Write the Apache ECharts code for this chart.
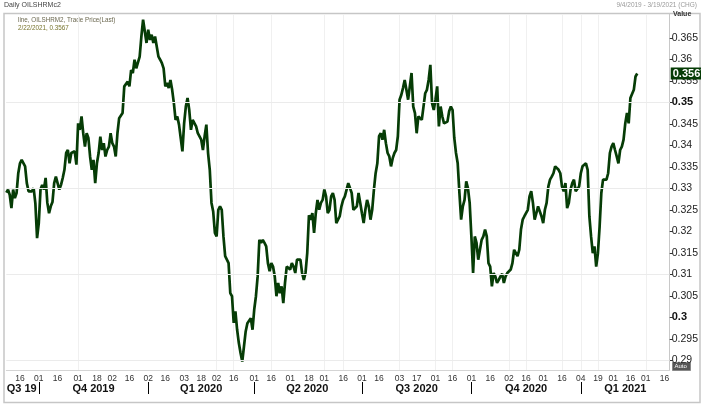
<!DOCTYPE html>
<html><head><meta charset="utf-8">
<script src="https://cdn.jsdelivr.net/npm/echarts@6/dist/echarts.min.js"></script>
<style>html,body{margin:0;padding:0;background:#fff;}#c{width:701px;height:405px;}</style>
</head><body><div id="c"></div>
<script>
// ---- data ----
const startDate = '2019-09-04';
const endDate = '2021-03-19';
const holidays = ['2019-11-28','2019-12-25','2020-01-01','2020-01-20','2020-02-17','2020-04-10','2020-05-25','2020-07-03','2020-09-07','2020-11-26','2020-12-25','2021-01-01','2021-01-18','2021-02-15'];

const values = [
0.3290,0.3297,0.3285,0.3254,0.3297,0.3277,0.3289,0.3335,0.3358,0.3366,
0.3362,0.3351,0.3312,0.3293,0.3289,0.3293,0.3300,0.3265,0.3184,0.3219,
0.3297,0.3308,0.3297,0.3324,0.3266,0.3242,0.3258,0.3268,0.3312,0.3327,
0.3312,0.3297,0.3308,0.3324,0.3343,0.3382,0.3389,0.3358,0.3382,0.3382,
0.3386,0.3355,0.3451,0.3436,0.3467,0.3428,0.3397,0.3428,0.3417,0.3374,
0.3343,0.3366,0.3312,0.3358,0.3382,0.3420,0.3389,0.3405,0.3374,0.3389,
0.3397,0.3428,0.3405,0.3397,0.3374,0.3428,0.3463,0.3467,0.3475,0.3537,
0.3541,0.3548,0.3537,0.3575,0.3568,0.3599,0.3579,0.3575,0.3606,0.3653,
0.3692,0.3696,0.3638,0.3669,0.3645,0.3657,0.3638,0.3653,0.3653,0.3606,
0.3599,0.3591,0.3579,0.3537,0.3545,0.3533,0.3552,0.3529,0.3498,0.3459,
0.3467,0.3448,0.3444,0.3386,0.3451,0.3490,0.3510,0.3482,0.3436,0.3459,
0.3455,0.3444,0.3428,0.3432,0.3413,0.3389,0.3421,0.3448,0.3382,0.3343,
0.3266,0.3246,0.3196,0.3188,0.3250,0.3258,0.3250,0.3188,0.3142,0.3138,
0.3126,0.3056,0.3049,0.2987,0.3014,0.2971,0.2940,0.2917,0.2897,0.2932,
0.2967,0.2986,0.2983,0.2998,0.2971,0.3018,0.3049,0.3095,0.3180,0.3173,
0.3180,0.3173,0.3165,0.3126,0.3107,0.3126,0.3118,0.3095,0.3049,0.3080,
0.3056,0.3072,0.3033,0.3080,0.3118,0.3118,0.3111,0.3126,0.3118,0.3103,
0.3134,0.3134,0.3134,0.3103,0.3087,0.3103,0.3149,0.3237,0.3227,0.3242,
0.3196,0.3242,0.3273,0.3250,0.3266,0.3273,0.3297,0.3281,0.3242,0.3250,
0.3281,0.3289,0.3273,0.3219,0.3215,0.3235,0.3258,0.3273,0.3281,0.3281,
0.3312,0.3308,0.3289,0.3250,0.3246,0.3258,0.3289,0.3266,0.3242,0.3219,
0.3250,0.3273,0.3258,0.3227,0.3250,0.3297,0.3335,0.3358,0.3421,0.3428,
0.3413,0.3436,0.3405,0.3382,0.3374,0.3351,0.3370,0.3382,0.3389,0.3421,
0.3506,0.3517,0.3533,0.3552,0.3529,0.3506,0.3537,0.3568,0.3490,0.3475,
0.3428,0.3467,0.3467,0.3459,0.3490,0.3521,0.3529,0.3552,0.3587,0.3498,
0.3482,0.3506,0.3537,0.3444,0.3490,0.3467,0.3451,0.3448,0.3455,0.3479,
0.3490,0.3482,0.3417,0.3382,0.3358,0.3289,0.3227,0.3258,0.3273,0.3316,
0.3300,0.3266,0.3188,0.3103,0.3188,0.3173,0.3134,0.3157,0.3180,0.3188,
0.3204,0.3188,0.3126,0.3118,0.3072,0.3103,0.3095,0.3080,0.3087,0.3095,
0.3101,0.3080,0.3095,0.3103,0.3107,0.3111,0.3126,0.3157,0.3161,0.3142,
0.3157,0.3204,0.3227,0.3235,0.3235,0.3250,0.3281,0.3293,0.3266,0.3227,
0.3242,0.3258,0.3262,0.3235,0.3219,0.3250,0.3266,0.3304,0.3320,0.3327,
0.3335,0.3351,0.3355,0.3343,0.3335,0.3304,0.3293,0.3312,0.3254,0.3266,
0.3297,0.3312,0.3320,0.3293,0.3289,0.3304,0.3335,0.3351,0.3351,0.3358,
0.3343,0.3235,0.3188,0.3149,0.3165,0.3118,0.3149,0.3211,0.3289,0.3320,
0.3316,0.3320,0.3335,0.3382,0.3397,0.3405,0.3389,0.3374,0.3358,0.3389,
0.3397,0.3413,0.3451,0.3475,0.3451,0.3510,0.3506,0.3529,0.3560,0.3567
];

const tickDates = ['2019-09-16','2019-10-01','2019-10-16','2019-11-01','2019-11-18','2019-12-02','2019-12-16','2020-01-02','2020-01-16','2020-02-03','2020-02-18','2020-03-02','2020-03-16','2020-04-01','2020-04-16','2020-05-01','2020-05-18','2020-06-01','2020-06-16','2020-07-01','2020-07-16','2020-08-03','2020-08-17','2020-09-01','2020-09-16','2020-10-01','2020-10-16','2020-11-02','2020-11-16','2020-12-01','2020-12-16','2021-01-04','2021-01-19','2021-02-01','2021-02-16','2021-03-01','2021-03-16'];
const gridDates = ['2019-11-01','2020-03-02','2020-03-16','2020-04-16','2020-06-01','2020-06-16','2020-08-03','2020-09-01','2020-09-16','2020-11-02','2020-11-16','2020-12-16','2021-01-04','2021-01-19','2021-03-01'];
const quarterStarts = ['2019-09-04','2019-10-01','2020-01-02','2020-04-01','2020-07-01','2020-10-01','2021-01-04'];
const quarterNames = ['Q3 19','Q4 2019','Q1 2020','Q2 2020','Q3 2020','Q4 2020','Q1 2021'];
const yTicks = [0.29,0.295,0.3,0.305,0.31,0.315,0.32,0.325,0.33,0.335,0.34,0.345,0.35,0.355,0.36,0.365];
const yBold = [0.3,0.35];
const hGrid = [0.29,0.31,0.33,0.35,0.355];
const yMin = 0.28774, yMax = 0.37053;

// ---- build trading-day categories ----
const dates = [];
(function(){
  const hs = new Set(holidays);
  const d = new Date(startDate + 'T00:00:00Z');
  const e = new Date(endDate + 'T00:00:00Z');
  while (d <= e) {
    const wd = d.getUTCDay();
    const s = d.toISOString().slice(0,10);
    if (wd !== 0 && wd !== 6 && !hs.has(s)) dates.push(s);
    d.setUTCDate(d.getUTCDate() + 1);
  }
})();
const tickSet = new Set(tickDates);
const gridSet = new Set(gridDates);
const qStartIdx = quarterStarts.map(s => dates.indexOf(s));
const qDivSet = new Set(quarterStarts.slice(1));
const qMid = {};
qStartIdx.forEach((s, k) => {
  const e = k + 1 < qStartIdx.length ? qStartIdx[k+1] : dates.length - 1;
  qMid[dates[Math.floor((s + e) / 2)]] = quarterNames[k];
});
const lastVal = values[values.length - 1];
const FONT = '"Liberation Sans", Arial, sans-serif';

const chart = echarts.init(document.getElementById('c'), null, {renderer: 'canvas'});
const staticGraphics = [
  {type: 'rect', silent: true, shape: {x: 4, y: 13.5, width: 696, height: 389}, style: {fill: 'none', stroke: '#c6c6c6', lineWidth: 1.5}, z: -1},
  {type: 'text', left: 4, top: 2, style: {text: 'Daily OILSHRMc2', fontSize: 7, fill: '#444', fontFamily: FONT}},
  {type: 'text', right: 4, top: 2, style: {text: '9/4/2019 - 3/19/2021 (CHG)', fontSize: 6.5, fill: '#9a9a9a', fontFamily: FONT}},
  {type: 'text', left: 673, top: 11, style: {text: 'Value', fontSize: 7, fontWeight: 'bold', fill: '#333', fontFamily: FONT}},
  {type: 'text', left: 18, top: 17, style: {text: 'line, OILSHRM2, Trade Price(Last)', fontSize: 6.3, fill: '#6b6850', fontFamily: FONT}},
  {type: 'text', left: 18, top: 25, style: {text: '2/22/2021, ' + lastVal.toFixed(4), fontSize: 6.3, fill: '#77742c', fontFamily: FONT}},
  {type: 'group', left: 672, top: 362, children: [
    {type: 'rect', shape: {x: 0, y: 0, width: 18, height: 8}, style: {fill: '#555', stroke: '#888'}},
    {type: 'text', x: 2, y: 1, style: {text: 'Auto', fontSize: 6, fill: '#fff', fontFamily: FONT}}
  ]}
];
chart.setOption({
  animation: false,
  backgroundColor: '#ffffff',
  grid: {left: 6.3, right: 30.7, top: 14, bottom: 35, containLabel: false},
  xAxis: [{
    type: 'category', data: dates, boundaryGap: false,
    axisLine: {show: true, lineStyle: {color: '#d4d4d4'}},
    axisTick: {show: false},
    axisLabel: {interval: (i, v) => tickSet.has(v), formatter: v => v.slice(8), fontSize: 8.5, color: '#333', margin: 4, fontFamily: FONT},
    splitLine: {show: true, interval: (i, v) => gridSet.has(v), lineStyle: {color: '#f0f0f0', width: 1}}
  }, {
    type: 'category', data: dates, boundaryGap: false, position: 'bottom', offset: 12,
    axisLine: {show: false},
    axisTick: {show: true, interval: (i, v) => qDivSet.has(v), length: 12, lineStyle: {color: '#000', width: 1}},
    axisLabel: {interval: (i, v) => v in qMid, formatter: v => qMid[v] || '', fontSize: 11, fontWeight: 'bold', color: '#111', margin: 1, fontFamily: FONT},
    splitLine: {show: false}
  }],
  yAxis: {
    type: 'value', position: 'right', min: yMin, max: yMax, scale: true,
    axisLine: {show: true, lineStyle: {color: '#c8c8c8'}},
    axisTick: {show: true, customValues: yTicks, length: 3, lineStyle: {color: '#333'}},
    axisLabel: {
      customValues: yTicks, margin: 2, fontSize: 10.5, color: '#222', fontFamily: FONT,
      formatter: v => { const s = String(+v.toFixed(3)); return yBold.some(b => Math.abs(b - v) < 1e-9) ? '{b|' + s + '}' : s; },
      rich: {b: {fontWeight: 'bold', fontSize: 11, color: '#111', fontFamily: FONT}}
    },
    splitLine: {show: false}
  },
  series: [{
    type: 'line', data: [], z: 1, silent: true,
    markLine: {silent: true, symbol: 'none', label: {show: false},
      lineStyle: {color: '#ebebeb', type: 'solid', width: 1},
      data: hGrid.map(v => ({yAxis: v}))}
  }, {
    type: 'line', data: values, z: 3, showSymbol: false, symbol: 'none',
    lineStyle: {color: '#063c06', width: 2.7}, itemStyle: {color: '#063c06'}
  }],
  graphic: staticGraphics
});
// last value tag on the value axis, placed through the axis scale
const tagY = chart.convertToPixel({yAxisIndex: 0}, lastVal);
const tagX = chart.convertToPixel({xAxisIndex: 0}, dates[dates.length - 1]);
chart.setOption({graphic: staticGraphics.concat([{
  type: 'text', x: tagX + 1, y: tagY, z: 50,
  style: {text: lastVal.toFixed(4), fontSize: 11, fontWeight: 'bold', fill: '#ffffff', fontFamily: FONT,
    backgroundColor: '#063c06', padding: [1, 1, 0, 2], verticalAlign: 'middle', align: 'left'}
}])});
</script></body></html>
